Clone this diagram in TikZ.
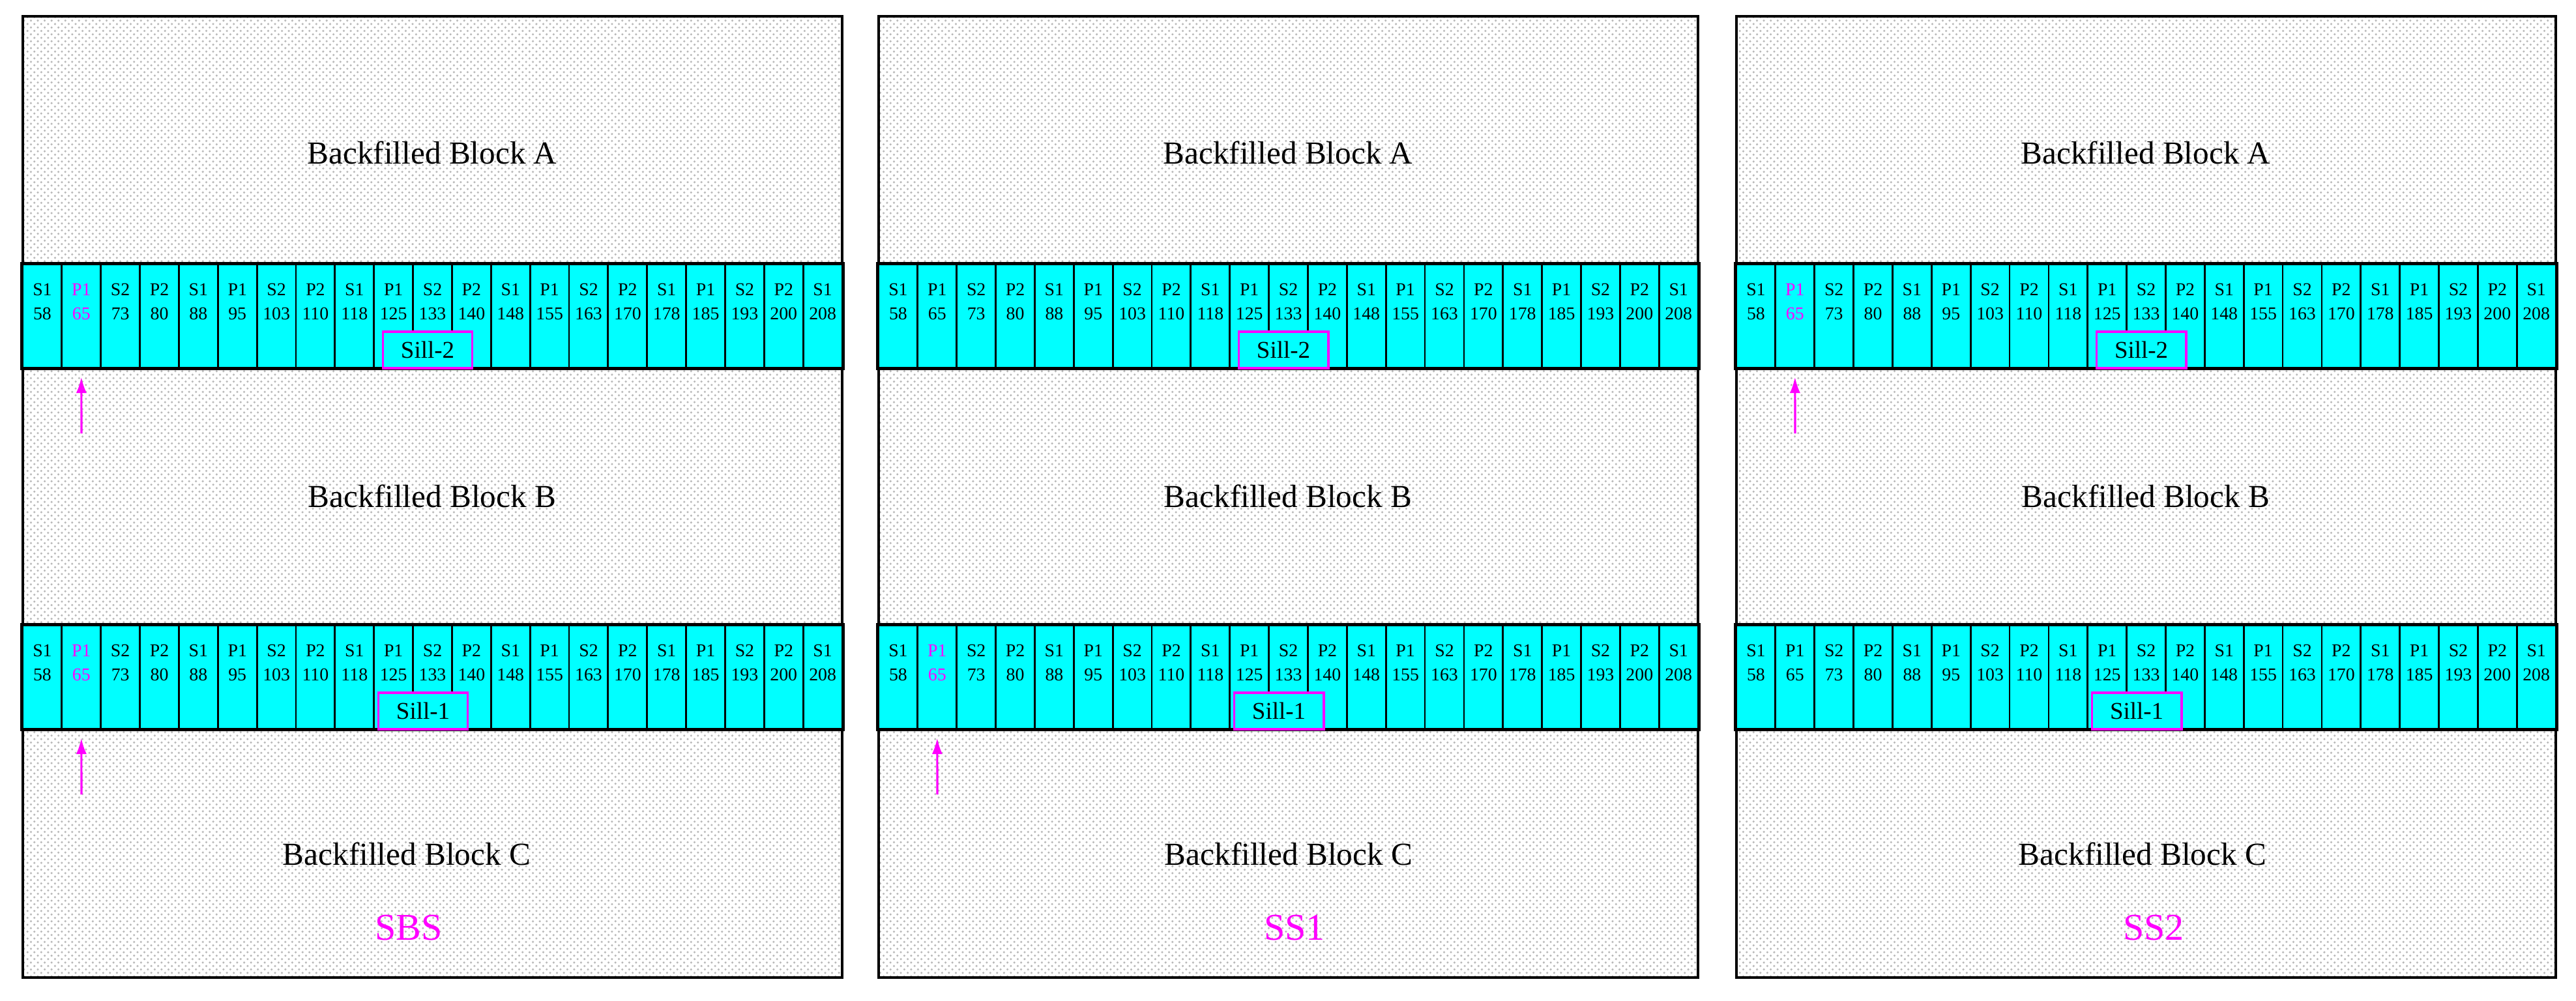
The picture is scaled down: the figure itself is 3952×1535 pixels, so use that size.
\documentclass[tikz,border=0pt]{standalone}
\usepackage{fontspec}
\setmainfont{Liberation Serif}
\usetikzlibrary{patterns,arrows.meta}

\definecolor{stopefill}{RGB}{0,255,255}
\definecolor{hilite}{RGB}{255,0,255}

\tikzset{
  backfill/.style={draw, line width=1pt, pattern=crosshatch dots, pattern color=gray!55},
  cell/.style={draw, fill=stopefill, line width=0.8pt, minimum width=0.5986cm, minimum height=1.58cm, inner sep=0pt},
  celltext/.style={font=\fontsize{7.9}{10.5}\selectfont, align=center, inner sep=0pt},
  sill/.style={draw=hilite, fill=stopefill, line width=1.1pt, minimum width=1.37cm, minimum height=0.56cm, inner sep=0pt, font=\fontsize{10.5}{12}\selectfont},
  blocklabel/.style={font=\fontsize{14}{16}\selectfont},
  caselabel/.style={text=hilite, font=\fontsize{16.5}{18}\selectfont},
  marker/.style={draw=hilite, line width=0.9pt, -{Latex[length=7pt,width=4.6pt]}}
}

\begin{document}
\begin{tikzpicture}[x=0.01cm, y=-0.01cm]
    \path[use as bounding box, fill=white] (0,0) rectangle (3952,1535);

    \foreach \px/\pn/\case/\hA/\hB/\cx/\tx in {35/1/SBS/1/1/589/592, 1348/2/SS1/0/1/629/638, 2664/3/SS2/1/0/623/640} {
        % Blocks
        \draw[backfill] (\px,25) rectangle ++(1257,1475);
        \node[blocklabel] (A\pn) at (\px+628,234) {Backfilled Block A};
        \node[blocklabel] (B\pn) at (\px+628,761) {Backfilled Block B};
        \node[blocklabel] (C\pn) at (\px+\cx,1310) {Backfilled Block C};
        \node[caselabel] (L\pn) at (\px+\tx,1424) {\case};

        % Stopes
        \foreach \by/\bn/\sill/\sx/\hl in {406/1/Sill-2/621/\hA, 960/2/Sill-1/614/\hB} {
            \foreach \lb/\nm [count=\i] in {S1/58, P1/65, S2/73, P2/80, S1/88, P1/95, S2/103, P2/110, S1/118, P1/125, S2/133, P2/140, S1/148, P1/155, S2/163, P2/170, S1/178, P1/185, S2/193, P2/200, S1/208} {
                \ifnum\i=2 \ifnum\hl=1 \def\tc{hilite}\else\def\tc{black}\fi \else\def\tc{black}\fi
                \node[cell] (c\pn\bn-\i) at (\px+59.86*\i-29.93, \by+79) {};
                \node[celltext, text=\tc] (t\pn\bn-\i) at (\px+59.86*\i-29.93, \by+57) {\lb\\\nm};
            }
            \draw[line width=1.3pt] (c\pn\bn-1.north west) rectangle (c\pn\bn-21.south east);
            \node[sill] (s\pn\bn) at (\px+\sx, \by+131) {\sill};

            % Marker
            \ifnum\hl=1
                \coordinate (m\pn\bn) at (\px+90, \by+259);
                \draw[marker] (m\pn\bn) -- ([yshift=-3.7pt]c\pn\bn-2.south);
            \fi
        }
    }
\end{tikzpicture}
\end{document}
